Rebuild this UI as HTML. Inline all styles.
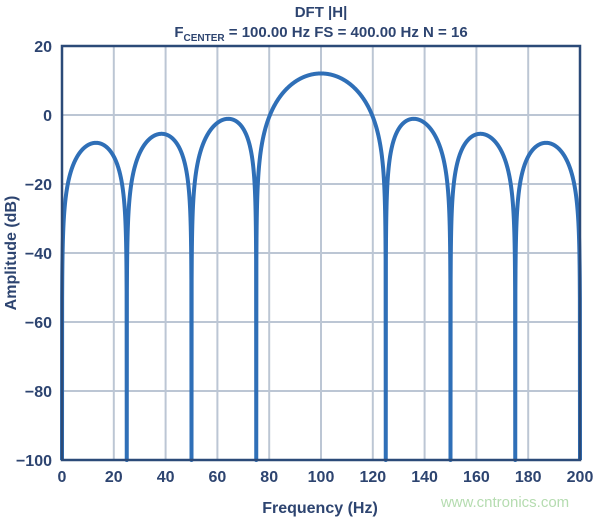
<!DOCTYPE html><html><head><style>body{margin:0;background:#fff}svg text{font-family:"Liberation Sans",sans-serif;font-weight:bold;fill:#2d4470}</style></head><body>
<svg id="s" width="600" height="520" xmlns="http://www.w3.org/2000/svg">
<text x="321" y="17" font-size="15" text-anchor="middle">DFT |H|</text>
<text x="321" y="37" font-size="15" text-anchor="middle">F<tspan font-size="10" dy="4">CENTER</tspan><tspan dy="-4"> = 100.00 Hz FS = 400.00 Hz N = 16</tspan></text>
<g id="grid" stroke="#bcc6d4" stroke-width="2"></g>
<path id="c" fill="none" stroke="#2f6fb7" stroke-width="4" stroke-linejoin="round"/>
<rect x="62" y="46" width="518" height="414" fill="none" stroke="#2b4a78" stroke-width="2.5"/>
<g id="lab" font-size="16"></g>
<text x="320" y="513" font-size="16" text-anchor="middle">Frequency (Hz)</text>
<text transform="translate(16,253) rotate(-90)" font-size="16" text-anchor="middle">Amplitude (dB)</text>
<text x="505" y="507" font-size="15" style="font-weight:normal;fill:#b5dcb0" text-anchor="middle">www.cntronics.com</text>
</svg>
<script>
var X=f=>62+f*518/200,Y=d=>46+(20-d)*414/120,g=document.getElementById('grid'),l=document.getElementById('lab'),h='';
for(var f=20;f<200;f+=20)h+='<line x1="'+X(f)+'" x2="'+X(f)+'" y1="46" y2="460"/>';
for(var d=0;d>-100;d-=20)h+='<line x1="62" x2="580" y1="'+Y(d)+'" y2="'+Y(d)+'"/>';
g.innerHTML=h;h='';
for(f=0;f<=200;f+=20)h+='<text x="'+X(f)+'" y="482" text-anchor="middle">'+f+'</text>';
for(d=20;d>=-100;d-=20)h+='<text x="52" y="'+(Y(d)+6)+'" text-anchor="end">'+(d<0?'\u2212'+(-d):d)+'</text>';
l.innerHTML=h;
var p='';for(var i=0;i<=4000;i++){f=i*200/4000;var x=Math.PI*(f-100)/400,H=Math.abs(x)<1e-9?16:Math.abs(Math.sin(16*x)/Math.sin(x));var db=20*Math.log10(H/4);if(!(db>-100))db=-100;p+=(i?'L':'M')+X(f).toFixed(2)+' '+Y(db).toFixed(2);}
document.getElementById('c').setAttribute('d',p);
</script></body></html>
